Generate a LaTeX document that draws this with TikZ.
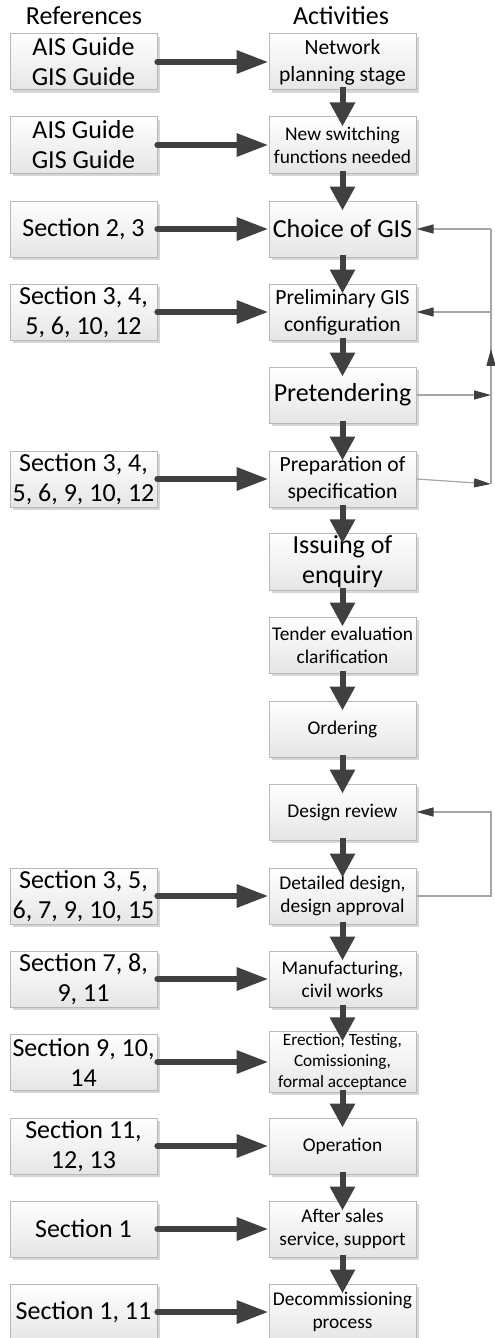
\documentclass[tikz,border=0pt]{standalone}
\usepackage{fontspec}
\setmainfont{Carlito}
\usetikzlibrary{arrows.meta,shadows,decorations.markings}

\begin{document}
\begin{tikzpicture}[x=0.5pt,y=-0.5pt,
  box/.style={draw=black!28,line width=0.5pt,top color=white,bottom color=black!10,
    minimum width=73.5pt,minimum height=28pt,inner sep=1pt,align=center,
    drop shadow={shadow xshift=1.3pt,shadow yshift=-1.3pt,fill=black,opacity=0.16}},
  big/.style={font=\fontsize{13}{15}\selectfont},
  mid/.style={font=\fontsize{10.8}{13.4}\selectfont},
  small/.style={font=\fontsize{9.7}{11.5}\selectfont},
  tiny/.style={font=\fontsize{8.6}{10.4}\selectfont},
  refarrow/.style={draw=black!75,line width=3.2pt,line cap=round,
    -{Triangle[length=16pt,width=11pt]}},
  flow/.style={draw=black!75,line width=3pt,shorten <=-1.5pt,shorten >=-5pt,
    -{Triangle[length=12pt,width=12pt]}},
  fbline/.style={draw=black!35,line width=0.6pt},
  fbarrow/.style={fbline,-{Triangle[length=8.5pt,width=4.5pt,color=black!75]}}]
  \useasboundingbox (0,0) rectangle (494,1338);

  % column titles
  \node[big,anchor=base] (refhead) at (84,25) {References};
  \node[big,anchor=base] (acthead) at (341,25) {Activities};

  % activities
  \node[box,mid]   (plan)    at (342.5,62)   {Network\\planning stage};
  \node[box,small] (switch)  at (342.5,145)  {New switching\\functions needed};
  \node[box,big]   (choice)  at (342.5,229)  {Choice of GIS};
  \node[box,mid]   (prelim)  at (342.5,312)  {Preliminary GIS\\configuration};
  \node[box,big]   (pretend) at (342.5,395)  {Pretendering};
  \node[box,mid]   (spec)    at (342.5,479)  {Preparation of\\specification};
  \node[box,big]   (enquiry) at (342.5,562)  {Issuing of\\enquiry};
  \node[box,small] (tender)  at (342.5,645)  {Tender evaluation\\clarification};
  \node[box,small] (order)   at (342.5,729)  {Ordering};
  \node[box,small] (review)  at (342.5,812)  {Design review};
  \node[box,small] (detail)  at (342.5,896)  {Detailed design,\\design approval};
  \node[box,small] (manu)    at (342.5,979)  {Manufacturing,\\civil works};
  \node[box,tiny]  (erect)   at (342.5,1062) {Erection, Testing,\\Comissioning,\\formal acceptance};
  \node[box,small] (oper)    at (342.5,1146) {Operation};
  \node[box,small] (after)   at (342.5,1229) {After sales\\service, support};
  \node[box,small] (decom)   at (342.5,1312) {Decommissioning\\process};

  % references
  \node[box,big] (refplan)   at (83.5,62)   {AIS Guide\\GIS Guide};
  \node[box,big] (refswitch) at (83.5,145)  {AIS Guide\\GIS Guide};
  \node[box,big] (refchoice) at (83.5,229)  {Section 2, 3};
  \node[box,big] (refprelim) at (83.5,312)  {Section 3, 4,\\5, 6, 10, 12};
  \node[box,big] (refspec)   at (83.5,479)  {Section 3, 4,\\5, 6, 9, 10, 12};
  \node[box,big] (refdetail) at (83.5,896)  {Section 3, 5,\\6, 7, 9, 10, 15};
  \node[box,big] (refmanu)   at (83.5,979)  {Section 7, 8,\\9, 11};
  \node[box,big] (referect)  at (83.5,1062) {Section 9, 10,\\14};
  \node[box,big] (refoper)   at (83.5,1146) {Section 11,\\12, 13};
  \node[box,big] (refafter)  at (83.5,1229) {Section 1};
  \node[box,big] (refdecom)  at (83.5,1312) {Section 1, 11};

  % main sequence
  \foreach \a/\b in {plan/switch,switch/choice,choice/prelim,prelim/pretend,
      pretend/spec,spec/enquiry,enquiry/tender,tender/order,order/review,
      review/detail,detail/manu,manu/erect,erect/oper,oper/after,after/decom}
    \draw[flow] (\a.south) -- (\b.north);

  % references feeding the activities
  \foreach \a in {plan,switch,choice,prelim,spec,detail,manu,erect,oper,after,decom}
    \draw[refarrow] (ref\a.east) -- (\a.west);

  % feedback from tendering back to GIS choice
  \coordinate (fbtop) at (491,229);
  \coordinate (fbbot) at (491,484);
  \draw[fbarrow] (pretend.east) -- (pretend.east -| fbtop);
  \draw[fbarrow] (spec.east) -- (fbbot);
  \draw[fbline,postaction={decorate},decoration={markings,
      mark=at position 0.53 with {\arrow{Triangle[length=8.5pt,width=4.5pt,color=black!75]}}}]
    (fbbot) -- (fbtop);
  \draw[fbarrow] (fbtop) -- (choice.east);
  \draw[fbarrow] (prelim.east -| fbtop) -- (prelim.east);

  % design loop
  \draw[fbarrow] (detail.east) -- (detail.east -| fbtop) |- (review.east);
\end{tikzpicture}
\end{document}
